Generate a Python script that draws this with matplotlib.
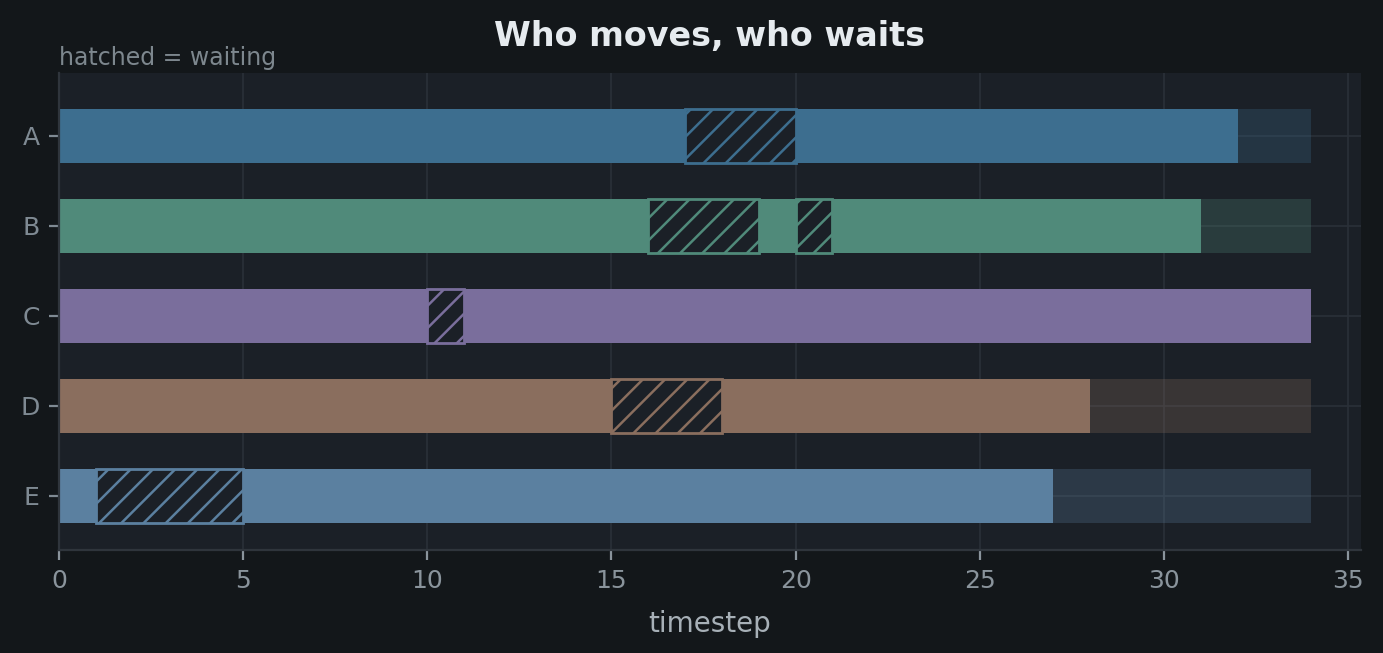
import matplotlib
matplotlib.use("Agg")
import matplotlib.pyplot as plt

# ---- data ----
agents = ["A", "B", "C", "D", "E"]
finish = [32, 31, 34, 28, 27]
horizon = 34
waits = [
    [(17, 20)],
    [(16, 19), (20, 21)],
    [(10, 11)],
    [(15, 18)],
    [(1, 5)],
]
colors = ["#3d6e8f", "#508a7a", "#7a6e9c", "#8a6e5e", "#5b80a0"]

FIG_BG = "#13171a"
AX_BG = "#1b2027"
GRID = "#2a3038"
SPINE = "#2f353c"
TICK = "#7f8a93"

DPI = 200
plt.rcParams["hatch.linewidth"] = 0.9

fig = plt.figure(figsize=(1383 / DPI, 653 / DPI), dpi=DPI, facecolor=FIG_BG)
ax = fig.add_axes([0.04266, 0.15773, 0.94143, 0.73094])
ax.set_facecolor(AX_BG)
ax.set_axisbelow(True)

ypos = list(range(len(agents)))
h = 0.6
for i, name in enumerate(agents):
    c = colors[i]
    ax.barh(ypos[i], finish[i], left=0, height=h, color=c, linewidth=0, zorder=2)
    if finish[i] < horizon:
        ax.barh(ypos[i], horizon - finish[i], left=finish[i], height=h,
                color=c, alpha=0.27, linewidth=0, zorder=2)
    for (s, e) in waits[i]:
        ax.barh(ypos[i], e - s, left=s, height=h, facecolor=AX_BG,
                edgecolor=c, hatch="///", linewidth=1.0, zorder=3)

ax.set_yticks(ypos)
ax.set_yticklabels(agents)
ax.set_xlim(0, 35.35)
ax.set_ylim(4.6, -0.7)
ax.set_xticks([0, 5, 10, 15, 20, 25, 30, 35])

ax.grid(True, color=GRID, linewidth=0.6)
for side in ["top", "right"]:
    ax.spines[side].set_visible(False)
for side in ["left", "bottom"]:
    ax.spines[side].set_color(SPINE)
    ax.spines[side].set_linewidth(0.8)

ax.tick_params(colors=TICK, labelcolor=TICK, labelsize=9, length=3.5, width=0.8)
ax.tick_params(axis="x", colors="#8a949c")
ax.set_xlabel("timestep", color="#a7b0b7", fontsize=10, labelpad=6)

ax.set_title("Who moves, who waits", color="#e6ebef", fontsize=12,
             fontweight="bold", pad=9.7)
ax.annotate("hatched = waiting", xy=(0, 1), xycoords="axes fraction",
            xytext=(0, 1), textcoords="offset points", ha="left", va="bottom",
            color="#7d878e", fontsize=8.5)

fig.savefig("out.png", dpi=DPI, facecolor=FIG_BG)
